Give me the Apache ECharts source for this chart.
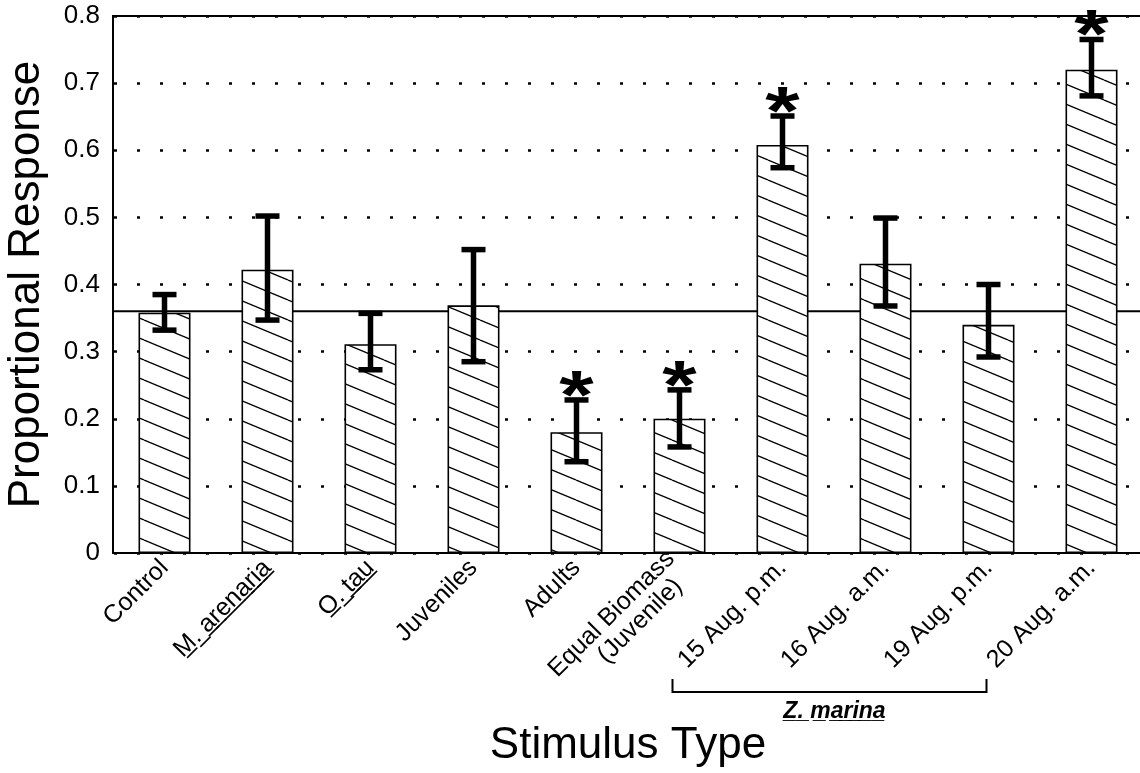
<!DOCTYPE html>
<html>
<head>
<meta charset="utf-8">
<script src="https://cdn.jsdelivr.net/npm/echarts@6/dist/echarts.min.js"></script>
<style>
  html, body { margin: 0; padding: 0; background: #fff; }
  #main { width: 1140px; height: 773px; }
</style>
</head>
<body>
<div id="main"></div>
<script>
// underline helper: combining low line after each non-space char
const ul = (s) => s.split('').map((c) => (c === ' ' ? c : c + '\u0332')).join('');

const categories = [
  'Control',
  ul('M.') + ' ' + ul('arenaria'),
  ul('O.') + ' ' + ul('tau'),
  'Juveniles',
  'Adults',
  'Equal Biomass\n(Juvenile)  ',
  '15 Aug. p.m.',
  '16 Aug. a.m.',
  '19 Aug. p.m.',
  '20 Aug. a.m.'
];
const responseValues = [0.358, 0.422, 0.311, 0.369, 0.180, 0.200, 0.608, 0.431, 0.340, 0.720];
const errLow = [0.332, 0.347, 0.273, 0.285, 0.136, 0.158, 0.574, 0.368, 0.292, 0.681];
const errHigh = [0.385, 0.502, 0.357, 0.452, 0.228, 0.243, 0.651, 0.499, 0.400, 0.765];
const significant = [0, 0, 0, 0, 1, 1, 1, 0, 0, 1];
const refLevel = 0.36;
const yTicks = [0, 0.1, 0.2, 0.3, 0.4, 0.5, 0.6, 0.7, 0.8];
const groupLabel = ul('Z.') + ' ' + ul('marina');
const groupFrom = 6;
const groupTo = 9;

const FONT = '"Liberation Sans", Arial, Helvetica, sans-serif';

// hatch pattern for bars
const hatch = document.createElement('canvas');
hatch.width = 48;
hatch.height = 20;
const hctx = hatch.getContext('2d');
hctx.fillStyle = '#fff';
hctx.fillRect(0, 0, 48, 20);
hctx.strokeStyle = '#000';
hctx.lineWidth = 1.3;
for (let k = -1; k <= 1; k++) {
  hctx.beginPath();
  hctx.moveTo(0, k * 20);
  hctx.lineTo(48, k * 20 + 20);
  hctx.stroke();
}

const chartDom = document.getElementById('main');
const myChart = echarts.init(chartDom);

const option = {
  animation: false,
  backgroundColor: '#fff',
  grid: {
    left: 113,
    top: 16,
    width: 1030,
    height: 537,
    outerBoundsMode: 'none',
    show: true,
    borderColor: '#000',
    borderWidth: 2,
    backgroundColor: 'transparent'
  },
  xAxis: {
    type: 'category',
    data: categories,
    axisTick: { show: false },
    axisLine: { lineStyle: { color: '#000', width: 2 } },
    axisLabel: {
      interval: 0,
      rotate: 45,
      margin: 11,
      color: '#000',
      fontSize: 25,
      lineHeight: 25,
      fontFamily: FONT
    },
    name: 'Stimulus Type',
    nameLocation: 'middle',
    nameGap: 171,
    nameTextStyle: { fontSize: 44, color: '#000', fontFamily: FONT }
  },
  yAxis: {
    type: 'value',
    min: yTicks[0],
    max: yTicks[yTicks.length - 1],
    interval: 0.1,
    axisTick: { show: false },
    axisLine: { show: true, lineStyle: { color: '#000', width: 2 } },
    axisLabel: {
      margin: 13,
      color: '#000',
      fontSize: 26,
      fontFamily: FONT,
      formatter: (v) => (v === 0 ? '0' : v.toFixed(1))
    },
    splitLine: {
      show: true,
      lineStyle: { color: '#000', width: 2.5, type: [3, 20], dashOffset: -24 }
    },
    name: 'Proportional Response',
    nameLocation: 'middle',
    nameGap: 64,
    nameTextStyle: { fontSize: 44, color: '#000', fontFamily: FONT }
  },
  series: [
    {
      type: 'custom',
      z: 1,
      data: [[0, refLevel]],
      renderItem: (params, api) => {
        const y = api.coord([0, api.value(1)])[1];
        const cs = params.coordSys;
        return {
          type: 'line',
          shape: { x1: cs.x, y1: y, x2: cs.x + cs.width, y2: y },
          style: { stroke: '#000', lineWidth: 2 }
        };
      }
    },
    {
      type: 'bar',
      z: 3,
      data: responseValues,
      barWidth: 52,
      itemStyle: {
        color: { image: hatch, repeat: 'repeat' },
        borderColor: '#000',
        borderWidth: 1.6
      }
    },
    {
      type: 'custom',
      z: 4,
      data: categories.map((c, i) => [i, errLow[i], errHigh[i], significant[i]]),
      encode: { x: 0, y: [1, 2] },
      renderItem: (params, api) => {
        const i = api.value(0);
        const lo = api.coord([i, api.value(1)]);
        const hi = api.coord([i, api.value(2)]);
        const half = 12;
        const st = { stroke: '#000', lineWidth: 5.5 };
        const children = [
          { type: 'line', shape: { x1: lo[0], y1: lo[1], x2: hi[0], y2: hi[1] }, style: st },
          { type: 'line', shape: { x1: hi[0] - half, y1: hi[1], x2: hi[0] + half, y2: hi[1] }, style: st },
          { type: 'line', shape: { x1: lo[0] - half, y1: lo[1], x2: lo[0] + half, y2: lo[1] }, style: st }
        ];
        if (api.value(3)) {
          children.push({
            type: 'text',
            x: hi[0],
            y: hi[1] - 1,
            scaleX: 1.3,
            style: {
              text: '*',
              fill: '#000',
              font: 'bold 68px ' + FONT,
              align: 'center',
              verticalAlign: 'middle'
            }
          });
        }
        return { type: 'group', children };
      }
    }
  ]
};

myChart.setOption(option);

// Z. marina bracket under the last four categories
const baseY = myChart.convertToPixel({ yAxisIndex: 0 }, 0);
const xa = myChart.convertToPixel({ xAxisIndex: 0 }, groupFrom) - 110;
const xb = myChart.convertToPixel({ xAxisIndex: 0 }, groupTo) - 105;
myChart.setOption({
  graphic: [
    {
      type: 'polyline',
      shape: { points: [[xa, baseY + 126], [xa, baseY + 139], [xb, baseY + 139], [xb, baseY + 126]] },
      style: { stroke: '#000', lineWidth: 2, fill: null }
    },
    {
      type: 'text',
      x: (xa + xb) / 2 + 5,
      y: baseY + 159,
      style: {
        text: groupLabel,
        fill: '#000',
        font: 'italic bold 23px ' + FONT,
        align: 'center',
        verticalAlign: 'middle'
      }
    }
  ]
});

window.onresize = function () {
  myChart.resize();
};
</script>
</body>
</html>
